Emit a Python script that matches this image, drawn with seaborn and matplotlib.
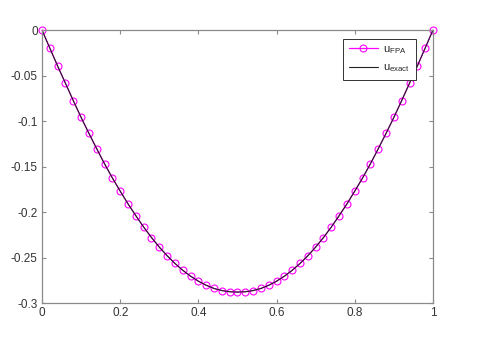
import matplotlib
matplotlib.use('Agg')
import matplotlib.pyplot as plt
import seaborn as sns
import numpy as np
import pandas as pd

# x grid and solution values (left half, mirrored on the right)
x_vals = [0.00, 0.02, 0.04, 0.06, 0.08, 0.10, 0.12, 0.14, 0.16, 0.18,
          0.20, 0.22, 0.24, 0.26, 0.28, 0.30, 0.32, 0.34, 0.36, 0.38,
          0.40, 0.42, 0.44, 0.46, 0.48, 0.50, 0.52, 0.54, 0.56, 0.58,
          0.60, 0.62, 0.64, 0.66, 0.68, 0.70, 0.72, 0.74, 0.76, 0.78,
          0.80, 0.82, 0.84, 0.86, 0.88, 0.90, 0.92, 0.94, 0.96, 0.98, 1.00]
u_fpa = [0.0, -0.0198, -0.0395, -0.0585, -0.0775, -0.0960, -0.1135, -0.1305, -0.1470, -0.1625,
         -0.1770, -0.1910, -0.2040, -0.2165, -0.2280, -0.2385, -0.2480, -0.2565, -0.2640, -0.2705,
         -0.2760, -0.2805, -0.2840, -0.2863, -0.2876, -0.2880, -0.2876, -0.2863, -0.2840, -0.2805,
         -0.2760, -0.2705, -0.2640, -0.2565, -0.2480, -0.2385, -0.2280, -0.2165, -0.2040, -0.1910,
         -0.1770, -0.1625, -0.1470, -0.1305, -0.1135, -0.0960, -0.0775, -0.0585, -0.0395, -0.0198, 0.0]
u_exact = list(u_fpa)

x_ticks = [0, 0.2, 0.4, 0.6, 0.8, 1]
x_ticklabels = ['0', '0.2', '0.4', '0.6', '0.8', '1']
y_ticks = [0, -0.05, -0.1, -0.15, -0.2, -0.25, -0.3]
y_ticklabels = ['0', '-0.05', '-0.1', '-0.15', '-0.2', '-0.25', '-0.3']

df = pd.DataFrame({'x': x_vals, 'fpa': u_fpa, 'exact': u_exact})

sns.set_style('white')
plt.rcParams['font.family'] = ['Liberation Sans', 'DejaVu Sans']
plt.rcParams['mathtext.fontset'] = 'custom'
plt.rcParams['mathtext.rm'] = 'Liberation Sans'

fig = plt.figure(figsize=(4.8, 3.42), dpi=100)
ax = fig.add_axes([0.0875, 0.114, 0.8145, 0.798])

sns.lineplot(data=df, x='x', y='fpa', ax=ax, color='#ff00ff', linewidth=0.9,
             marker='o', markersize=5, markerfacecolor='none',
             markeredgecolor='#ff00ff', markeredgewidth=0.8,
             label=r'u$_{\rm FPA}$', clip_on=False)
sns.lineplot(data=df, x='x', y='exact', ax=ax, color='#222222', linewidth=0.8,
             label=r'u$_{\rm exact}$')

ax.set_xlim(0, 1)
ax.set_ylim(-0.3, 0)
ax.set_xticks(x_ticks)
ax.set_xticklabels(x_ticklabels)
ax.set_yticks(y_ticks)
ax.set_yticklabels(y_ticklabels)
ax.set_xlabel('')
ax.set_ylabel('')

for s in ax.spines.values():
    s.set_visible(True)
    s.set_color('#8a8a8a')
    s.set_linewidth(0.9)
ax.tick_params(direction='in', length=3, width=0.8, color='#8a8a8a',
               labelsize=8.5, labelcolor='#333333', top=True, right=True,
               bottom=True, left=True, pad=3)

leg = ax.legend(loc='upper right', fontsize=8, fancybox=False, framealpha=1,
                edgecolor='#333333', borderpad=0.5, handlelength=2.6,
                handletextpad=0.5, labelspacing=0.6,
                bbox_to_anchor=(0.962, 0.977), borderaxespad=0.2)
leg.get_frame().set_linewidth(0.7)

fig.savefig('out.png', dpi=100)
